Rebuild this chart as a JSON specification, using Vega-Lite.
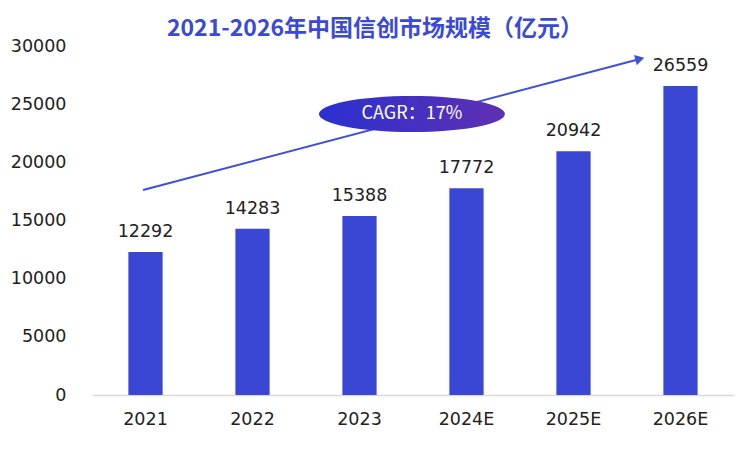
{
  "$schema": "https://vega.github.io/schema/vega-lite/v6.json",
  "autosize": {"type": "none"},
  "width": 642,
  "height": 349,
  "padding": {"left": 92, "top": 46, "right": 5, "bottom": 61},
  "background": "white",
  "config": {"view": {"stroke": null}, "font": "Noto Sans CJK SC"},
  "title": {
    "text": "2021-2026年中国信创市场规模（亿元）",
    "font": "Noto Sans CJK SC",
    "fontSize": 23,
    "fontWeight": "bold",
    "color": "#3b4ad6",
    "anchor": "middle",
    "dx": -38,
    "offset": -4
  },
  "datasets": {
    "bars": [
      {"year": "2021", "value": 12292},
      {"year": "2022", "value": 14283},
      {"year": "2023", "value": 15388},
      {"year": "2024E", "value": 17772},
      {"year": "2025E", "value": 20942},
      {"year": "2026E", "value": 26559}
    ],
    "arrow": [{"xs": 0.477, "ys": 17622, "xe": 5.12, "ye": 28882}],
    "cagr": [{"xc": 2.99, "yc": 24155, "label": "CAGR：17%"}]
  },
  "layer": [
    {
      "data": {"name": "bars"},
      "layer": [
        {
          "mark": {"type": "bar", "color": "#3a47d5"},
          "encoding": {
            "x": {
              "field": "year", "type": "ordinal", "sort": null,
              "scale": {"paddingInner": 0.68, "paddingOuter": 0.34},
              "axis": {
                "title": null, "labelAngle": 0, "ticks": false,
                "domainColor": "#d9d9d9", "domainWidth": 1.5,
                "labelFont": "DejaVu Sans", "labelFontSize": 17.5, "labelColor": "#222222",
                "labelPadding": 15
              }
            },
            "y": {
              "field": "value", "type": "quantitative",
              "scale": {"domain": [0, 30000], "nice": false},
              "axis": {
                "title": null, "values": [0, 5000, 10000, 15000, 20000, 25000, 30000],
                "format": "d",
                "grid": false, "domain": false, "ticks": false,
                "labelFont": "DejaVu Sans", "labelFontSize": 17.5, "labelColor": "#222222",
                "labelPadding": 26
              }
            }
          }
        },
        {
          "mark": {"type": "text", "baseline": "bottom", "dy": -11, "font": "DejaVu Sans", "fontSize": 17.5, "color": "#222222"},
          "encoding": {
            "x": {"field": "year", "type": "ordinal", "sort": null},
            "y": {"field": "value", "type": "quantitative"},
            "text": {"field": "value", "type": "quantitative", "format": "d"}
          }
        }
      ]
    },
    {
      "data": {"name": "arrow"},
      "layer": [
        {
          "mark": {"type": "rule", "color": "#3f4fd8", "strokeWidth": 2},
          "encoding": {
            "x": {"field": "xs", "type": "quantitative", "scale": {"domain": [0, 6], "nice": false, "zero": false}, "axis": null},
            "y": {"field": "ys", "type": "quantitative"},
            "x2": {"field": "xe"},
            "y2": {"field": "ye"}
          }
        },
        {
          "mark": {"type": "point", "shape": "triangle-right", "filled": true, "color": "#3f4fd8", "size": 110, "angle": 345, "opacity": 1},
          "encoding": {
            "x": {"field": "xe", "type": "quantitative", "scale": {"domain": [0, 6], "nice": false, "zero": false}, "axis": null},
            "y": {"field": "ye", "type": "quantitative"}
          }
        }
      ]
    },
    {
      "data": {"name": "cagr"},
      "layer": [
        {
          "mark": {
            "type": "point",
            "shape": "M-1,0 A1,0.194 0 1,0 1,0 A1,0.194 0 1,0 -1,0 Z",
            "size": 34596,
            "filled": true,
            "opacity": 1,
            "strokeWidth": 0,
            "color": {
              "gradient": "linear", "x1": 0, "y1": 0.5, "x2": 1, "y2": 0.5,
              "stops": [{"offset": 0, "color": "#2a30d0"}, {"offset": 1, "color": "#5f30b2"}]
            }
          },
          "encoding": {
            "x": {"field": "xc", "type": "quantitative", "scale": {"domain": [0, 6], "nice": false, "zero": false}, "axis": null},
            "y": {"field": "yc", "type": "quantitative"}
          }
        },
        {
          "mark": {"type": "text", "color": "white", "font": "Noto Sans CJK SC", "fontSize": 18, "baseline": "middle", "align": "center"},
          "encoding": {
            "x": {"field": "xc", "type": "quantitative", "scale": {"domain": [0, 6], "nice": false, "zero": false}, "axis": null},
            "y": {"field": "yc", "type": "quantitative"},
            "text": {"field": "label"}
          }
        }
      ]
    }
  ],
  "resolve": {"scale": {"x": "independent"}}
}
